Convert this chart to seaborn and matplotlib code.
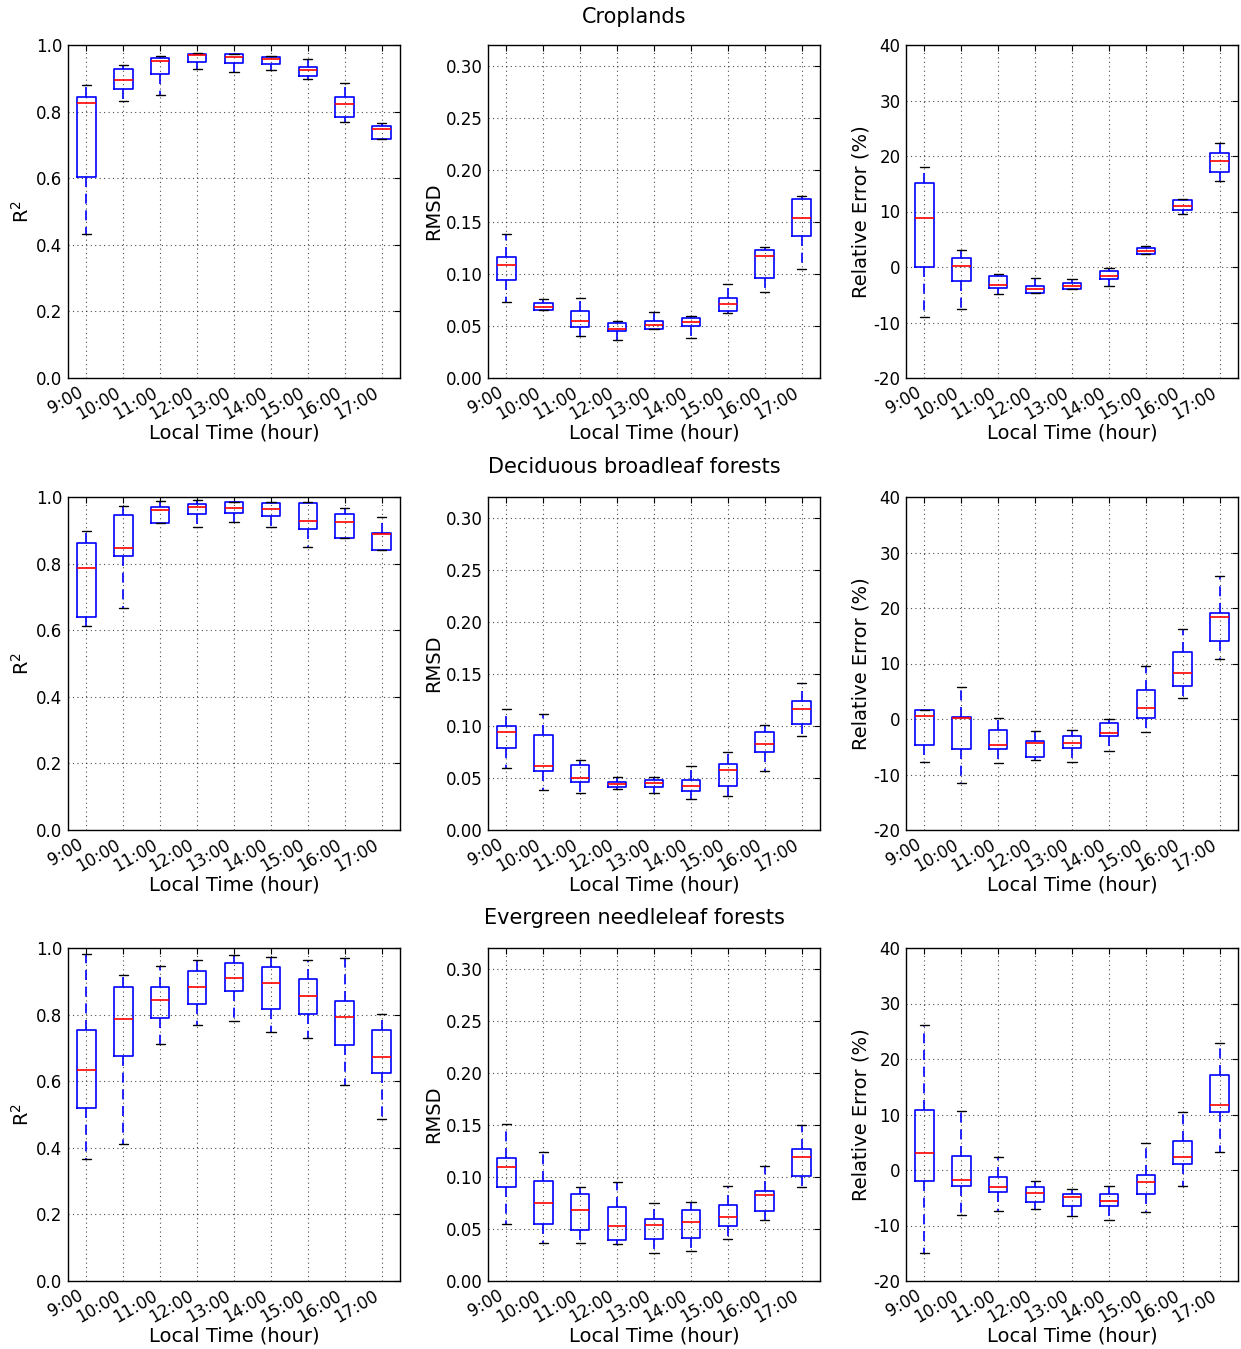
import matplotlib
matplotlib.use('Agg')
import matplotlib.pyplot as plt
import seaborn as sns
import numpy as np
import pandas as pd

# Box statistics
# each entry: (lower whisker, Q1, median, Q3, upper whisker)
hours = ['9:00', '10:00', '11:00', '12:00', '13:00',
         '14:00', '15:00', '16:00', '17:00']

crop_r2 = [
    (0.433, 0.605, 0.827, 0.845, 0.880),
    (0.833, 0.867, 0.895, 0.927, 0.940),
    (0.850, 0.913, 0.952, 0.960, 0.967),
    (0.927, 0.949, 0.969, 0.972, 0.977),
    (0.919, 0.947, 0.965, 0.972, 0.974),
    (0.924, 0.944, 0.959, 0.963, 0.968),
    (0.897, 0.907, 0.925, 0.934, 0.958),
    (0.768, 0.784, 0.822, 0.845, 0.887),
    (0.717, 0.717, 0.747, 0.758, 0.767),
]
crop_rmsd = [
    (0.0727, 0.0945, 0.109, 0.116, 0.138),
    (0.0656, 0.0656, 0.0682, 0.0720, 0.0762),
    (0.0405, 0.0492, 0.055, 0.064, 0.0769),
    (0.0363, 0.0456, 0.0473, 0.0524, 0.0547),
    (0.0473, 0.0473, 0.0505, 0.055, 0.0637),
    (0.0386, 0.0495, 0.0537, 0.0579, 0.0592),
    (0.0624, 0.0646, 0.0711, 0.0769, 0.0907),
    (0.0827, 0.0958, 0.1177, 0.1228, 0.1257),
    (0.1048, 0.136, 0.154, 0.1717, 0.1749),
]
crop_re = [
    (-9.0, 0.0, 8.8, 15.1, 18.1),
    (-7.5, -2.6, 0.1, 1.6, 3.1),
    (-4.9, -3.8, -3.2, -1.7, -1.3),
    (-4.7, -4.6, -3.9, -3.5, -2.0),
    (-4.0, -4.0, -3.4, -2.9, -2.2),
    (-3.4, -2.1, -1.7, -0.8, -0.2),
    (2.4, 2.4, 2.9, 3.5, 3.7),
    (9.6, 10.2, 11.0, 12.0, 12.3),
    (15.5, 17.2, 19.1, 20.5, 22.4),
]

dbf_r2 = [
    (0.613, 0.641, 0.787, 0.863, 0.897),
    (0.666, 0.824, 0.846, 0.946, 0.972),
    (0.921, 0.921, 0.961, 0.970, 0.987),
    (0.911, 0.948, 0.971, 0.980, 0.991),
    (0.926, 0.952, 0.967, 0.984, 0.985),
    (0.910, 0.942, 0.965, 0.983, 0.986),
    (0.850, 0.903, 0.927, 0.981, 0.986),
    (0.878, 0.878, 0.924, 0.950, 0.967),
    (0.841, 0.841, 0.888, 0.891, 0.940),
]
dbf_rmsd = [
    (0.0595, 0.0785, 0.0939, 0.0997, 0.1167),
    (0.0386, 0.0566, 0.0614, 0.0916, 0.1113),
    (0.0357, 0.0457, 0.0495, 0.0624, 0.0675),
    (0.0395, 0.0415, 0.0444, 0.0463, 0.0514),
    (0.0354, 0.0415, 0.0447, 0.0476, 0.0514),
    (0.0296, 0.0373, 0.0424, 0.0476, 0.0614),
    (0.0328, 0.0424, 0.0579, 0.0637, 0.0749),
    (0.0569, 0.0752, 0.0830, 0.0939, 0.1010),
    (0.0907, 0.1016, 0.1158, 0.1238, 0.1408),
]
dbf_re = [
    (-7.7, -4.7, 0.5, 1.7, 1.7),
    (-11.5, -5.4, 0.2, 0.4, 5.8),
    (-8.0, -5.4, -4.7, -2.0, 0.1),
    (-7.4, -6.9, -4.3, -3.9, -2.2),
    (-7.8, -5.2, -4.4, -3.1, -2.0),
    (-5.8, -3.1, -2.5, -0.7, 0.0),
    (-2.3, 0.2, 2.0, 5.2, 9.6),
    (3.8, 6.0, 8.3, 12.0, 16.2),
    (10.9, 14.0, 18.4, 19.1, 25.7),
]

enf_r2 = [
    (0.367, 0.519, 0.634, 0.754, 0.982),
    (0.411, 0.677, 0.786, 0.883, 0.919),
    (0.711, 0.789, 0.844, 0.884, 0.945),
    (0.770, 0.831, 0.883, 0.931, 0.963),
    (0.780, 0.871, 0.911, 0.954, 0.979),
    (0.748, 0.818, 0.896, 0.944, 0.972),
    (0.730, 0.801, 0.855, 0.906, 0.963),
    (0.588, 0.708, 0.794, 0.840, 0.970),
    (0.486, 0.624, 0.672, 0.753, 0.803),
]
enf_rmsd = [
    (0.0547, 0.0904, 0.1097, 0.118, 0.1508),
    (0.0363, 0.0547, 0.0746, 0.0958, 0.1238),
    (0.0363, 0.0486, 0.0685, 0.0836, 0.0907),
    (0.0354, 0.0395, 0.0524, 0.0707, 0.0949),
    (0.0273, 0.0405, 0.0534, 0.0598, 0.0746),
    (0.0286, 0.0415, 0.0566, 0.0678, 0.0759),
    (0.0405, 0.0524, 0.0617, 0.0727, 0.0916),
    (0.0588, 0.0669, 0.0827, 0.0865, 0.1109),
    (0.0907, 0.1013, 0.1193, 0.1264, 0.1495),
]
enf_re = [
    (-15.0, -1.9, 3.1, 10.9, 26.1),
    (-8.1, -2.9, -1.8, 2.6, 10.6),
    (-7.4, -4.0, -3.0, -1.2, 2.4),
    (-7.1, -5.7, -4.1, -3.1, -2.0),
    (-8.2, -6.5, -4.8, -4.3, -3.5),
    (-9.0, -6.4, -5.6, -4.3, -2.9),
    (-7.6, -4.3, -2.2, -0.9, 4.8),
    (-2.8, 1.1, 2.3, 5.3, 10.5),
    (3.3, 10.4, 11.8, 17.2, 22.8),
]

land_covers = ['Croplands', 'Deciduous broadleaf forests', 'Evergreen needleleaf forests']
panel_data = [
    [crop_r2, crop_rmsd, crop_re],
    [dbf_r2, dbf_rmsd, dbf_re],
    [enf_r2, enf_rmsd, enf_re],
]
ylabels = ['R$^2$', 'RMSD', 'Relative Error (%)']
ylims = [(0.0, 1.0), (0.0, 0.32), (-20, 40)]
yticks = [np.arange(0, 1.01, 0.2), np.arange(0, 0.31, 0.05), np.arange(-20, 41, 10)]
yfmt = ['{:.1f}', '{:.2f}', '{:.0f}']


def to_frame(stats):
    rows = []
    for hour, five in zip(hours, stats):
        for v in five:
            rows.append({'hour': hour, 'value': v})
    return pd.DataFrame(rows)


sns.set_theme(style='white')
plt.rcParams['font.family'] = ['DejaVu Sans']
plt.rcParams['text.color'] = 'black'
plt.rcParams['axes.labelcolor'] = 'black'
plt.rcParams['xtick.color'] = 'black'
plt.rcParams['ytick.color'] = 'black'

W, H = 1241, 1349
fig = plt.figure(figsize=(W / 100, H / 100), dpi=100)

lefts = [68, 488, 906]
tops = [45, 497, 948]
title_y = [17, 467, 918]
aw, ah = 332, 333

for r in range(3):
    fig.text(634 / W, 1 - title_y[r] / H, land_covers[r], ha='center', va='center',
             fontsize=15, color='black')
    for c in range(3):
        ax = fig.add_axes([lefts[c] / W, 1 - (tops[r] + ah) / H, aw / W, ah / H])
        df = to_frame(panel_data[r][c])
        sns.boxplot(data=df, x='hour', y='value', order=hours, ax=ax,
                    whis=(0, 100), width=0.5, fill=False, color='blue',
                    linewidth=1.2, showfliers=False,
                    boxprops=dict(color='blue'),
                    whiskerprops=dict(color='blue', linestyle=(0, (6, 4))),
                    capprops=dict(color='black', linewidth=1.0),
                    medianprops=dict(color='red'))
        ax.set_ylim(*ylims[c])
        ax.set_yticks(yticks[c])
        ax.set_yticklabels([yfmt[c].format(v) for v in yticks[c]], fontsize=12)
        ax.set_xticks(range(len(hours)))
        ax.set_xticklabels(hours, rotation=30, ha='right', fontsize=12)
        ax.set_xlabel('Local Time (hour)', fontsize=14, labelpad=0)
        ax.set_ylabel(ylabels[c], fontsize=14, labelpad=2)
        ax.grid(True, linestyle=(0, (1, 3)), color='black', linewidth=0.8, alpha=0.7)
        ax.tick_params(direction='in', top=True, right=True, length=4,
                       width=0.8, color='black', pad=4)
        for sp in ax.spines.values():
            sp.set_color('black')
            sp.set_linewidth(1.0)

fig.savefig('out.png', dpi=100)
